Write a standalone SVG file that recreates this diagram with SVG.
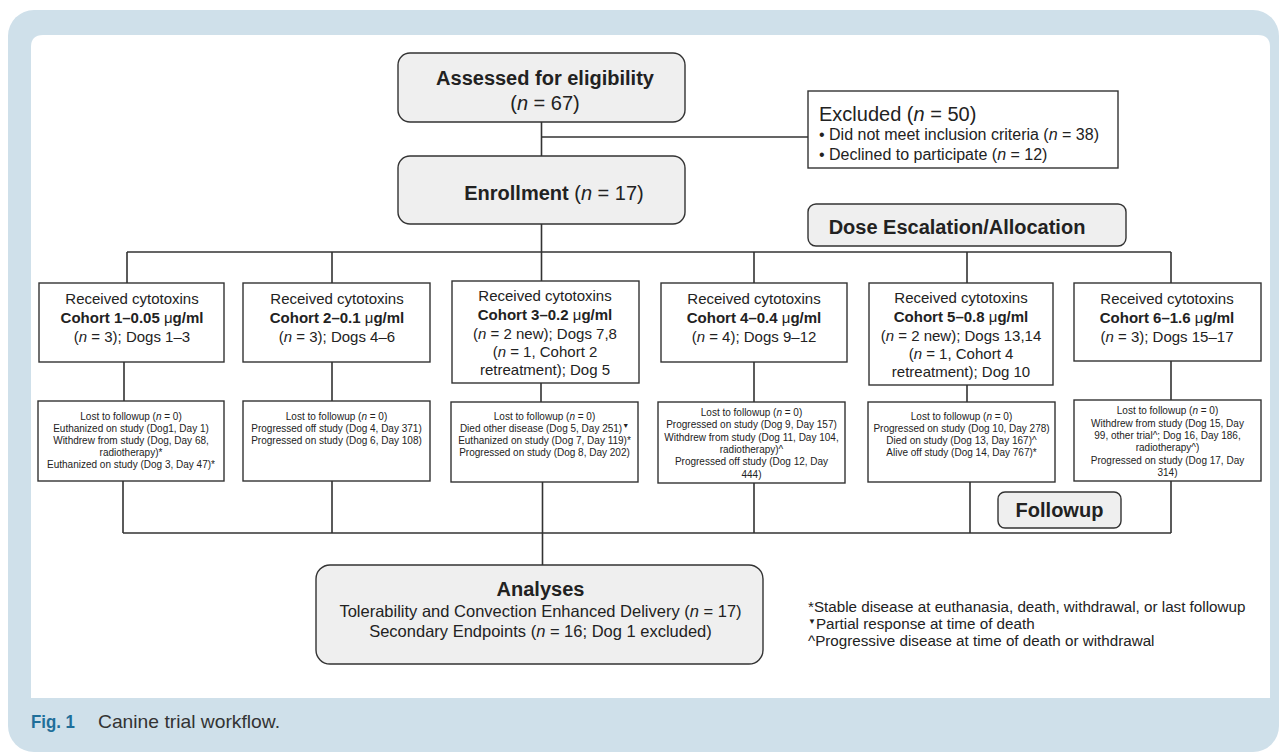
<svg xmlns="http://www.w3.org/2000/svg" width="1279" height="753" viewBox="0 0 1279 753">
<style>
text{font-family:"Liberation Sans",Arial,sans-serif;fill:#222}
.rb{fill:#efefef;stroke:#333;stroke-width:1.4}
.sb{fill:#fff;stroke:#333;stroke-width:1.4}
.t20{font-size:20px;text-anchor:middle}
.b{font-weight:bold}
.c15{font-size:15px;text-anchor:middle}
.f10{font-size:10px;text-anchor:middle}
.ln{stroke:#333;stroke-width:1.6;fill:none}
.it{font-style:italic}
.nb{font-weight:normal}
</style>
<rect x="8" y="10" width="1271" height="742" rx="26" fill="#cfe0ea"/>
<path d="M31 47 Q31 35 43 35 L1258 35 Q1270 35 1270 47 L1270 698 L31 698 Z" fill="#fff"/>
<g id="connectors" class="ln">
<path d="M541.5 122 V156 M541.5 137 H808"/>
<path d="M541.5 224 V252 M127 252 H1171 M127 252 V283 M332 252 V283 M541.5 252 V281 M754 252 V283 M967 252 V283 M1171 252 V283"/>
<path d="M124 362 V401 M332 362 V401 M541 383 V402 M754 362 V402 M967 385 V402 M1171 361 V400"/>
<path d="M123 481 V533 M332 481 V533 M542.5 482 V533 M754 483 V533 M970 482 V533 M1171 481 V533 M123 533 H1171 M542.5 533 V565"/>
</g>
<g id="assessed">
<rect class="rb" x="398" y="53" width="287" height="69" rx="12"/>
<text class="t20 b" x="545" y="85">Assessed for eligibility</text>
<text class="t20" x="545" y="110">(<tspan class="it">n</tspan> = 67)</text>
</g>
<g id="excluded">
<rect class="sb" x="808" y="91" width="310" height="77"/>
<text x="819" y="121" font-size="20">Excluded (<tspan class="it">n</tspan> = 50)</text>
<text x="819" y="140" font-size="16">• Did not meet inclusion criteria (<tspan class="it">n</tspan> = 38)</text>
<text x="819" y="160" font-size="16">• Declined to participate (<tspan class="it">n</tspan> = 12)</text>
</g>
<g id="enrollment">
<rect class="rb" x="398" y="156" width="287" height="68" rx="12"/>
<text class="t20" x="554" y="200"><tspan class="b">Enrollment</tspan> (<tspan class="it">n</tspan> = 17)</text>
</g>
<g id="dose">
<rect class="rb" x="808" y="204" width="318" height="42" rx="8"/>
<text class="t20 b" x="957" y="234">Dose Escalation/Allocation</text>
</g>
<g id="cohort1">
<rect class="sb" x="39" y="283" width="185" height="79"/>
<text class="c15" x="132" y="304">Received cytotoxins</text>
<text class="c15 b" x="132" y="323">Cohort 1–0.05 <tspan class="nb">μ</tspan>g/ml</text>
<text class="c15" x="132" y="342">(<tspan class="it">n</tspan> = 3); Dogs 1–3</text>
</g>
<g id="cohort2">
<rect class="sb" x="243" y="283" width="187" height="79"/>
<text class="c15" x="337" y="304">Received cytotoxins</text>
<text class="c15 b" x="337" y="323">Cohort 2–0.1 <tspan class="nb">μ</tspan>g/ml</text>
<text class="c15" x="337" y="342">(<tspan class="it">n</tspan> = 3); Dogs 4–6</text>
</g>
<g id="cohort3">
<rect class="sb" x="452" y="281" width="187" height="102"/>
<text class="c15" x="545" y="301">Received cytotoxins</text>
<text class="c15 b" x="545" y="320">Cohort 3–0.2 <tspan class="nb">μ</tspan>g/ml</text>
<text class="c15" x="545" y="339">(<tspan class="it">n</tspan> = 2 new); Dogs 7,8</text>
<text class="c15" x="545" y="357">(<tspan class="it">n</tspan> = 1, Cohort 2</text>
<text class="c15" x="545" y="375">retreatment); Dog 5</text>
</g>
<g id="cohort4">
<rect class="sb" x="661" y="283" width="186" height="79"/>
<text class="c15" x="754" y="304">Received cytotoxins</text>
<text class="c15 b" x="754" y="323">Cohort 4–0.4 <tspan class="nb">μ</tspan>g/ml</text>
<text class="c15" x="754" y="342">(<tspan class="it">n</tspan> = 4); Dogs 9–12</text>
</g>
<g id="cohort5">
<rect class="sb" x="869" y="283" width="184" height="102"/>
<text class="c15" x="961" y="303">Received cytotoxins</text>
<text class="c15 b" x="961" y="322">Cohort 5–0.8 <tspan class="nb">μ</tspan>g/ml</text>
<text class="c15" x="961" y="341">(<tspan class="it">n</tspan> = 2 new); Dogs 13,14</text>
<text class="c15" x="961" y="359">(<tspan class="it">n</tspan> = 1, Cohort 4</text>
<text class="c15" x="961" y="377">retreatment); Dog 10</text>
</g>
<g id="cohort6">
<rect class="sb" x="1074" y="283" width="187" height="78"/>
<text class="c15" x="1167" y="304">Received cytotoxins</text>
<text class="c15 b" x="1167" y="323">Cohort 6–1.6 <tspan class="nb">μ</tspan>g/ml</text>
<text class="c15" x="1167" y="342">(<tspan class="it">n</tspan> = 3); Dogs 15–17</text>
</g>
<g id="followup1">
<rect class="sb" x="38" y="401" width="186" height="80"/>
<text class="f10" x="131" y="419.5">Lost to followup (<tspan class="it">n</tspan> = 0)</text>
<text class="f10" x="131" y="431.5">Euthanized on study (Dog1, Day 1)</text>
<text class="f10" x="131" y="443.5">Withdrew from study (Dog, Day 68,</text>
<text class="f10" x="131" y="455.5">radiotherapy)*</text>
<text class="f10" x="131" y="468">Euthanized on study (Dog 3, Day 47)*</text>
</g>
<g id="followup2">
<rect class="sb" x="243" y="401" width="187" height="80"/>
<text class="f10" x="336.5" y="419.5">Lost to followup (<tspan class="it">n</tspan> = 0)</text>
<text class="f10" x="336.5" y="431.5">Progressed off study (Dog 4, Day 371)</text>
<text class="f10" x="336.5" y="443.5">Progressed on study (Dog 6, Day 108)</text>
</g>
<g id="followup3">
<rect class="sb" x="451" y="402" width="187" height="80"/>
<text class="f10" x="544.5" y="419.5">Lost to followup (<tspan class="it">n</tspan> = 0)</text>
<text class="f10" x="544.5" y="431.5">Died other disease (Dog 5, Day 251)<tspan font-size="7" dy="-4">▼</tspan></text>
<text class="f10" x="544.5" y="443.5">Euthanized on study (Dog 7, Day 119)*</text>
<text class="f10" x="544.5" y="455.5">Progressed on study (Dog 8, Day 202)</text>
</g>
<g id="followup4">
<rect class="sb" x="658" y="402" width="187" height="81"/>
<text class="f10" x="751.5" y="415.5">Lost to followup (<tspan class="it">n</tspan> = 0)</text>
<text class="f10" x="751.5" y="428">Progressed on study (Dog 9, Day 157)</text>
<text class="f10" x="751.5" y="440.5">Withdrew from study (Dog 11, Day 104,</text>
<text class="f10" x="751.5" y="452.5">radiotherapy)^</text>
<text class="f10" x="751.5" y="465">Progressed off study (Dog 12, Day</text>
<text class="f10" x="751.5" y="477.5">444)</text>
</g>
<g id="followup5">
<rect class="sb" x="868" y="402" width="187" height="80"/>
<text class="f10" x="961.5" y="419.5">Lost to followup (<tspan class="it">n</tspan> = 0)</text>
<text class="f10" x="961.5" y="431.5">Progressed on study (Dog 10, Day 278)</text>
<text class="f10" x="961.5" y="443.5">Died on study (Dog 13, Day 167)^</text>
<text class="f10" x="961.5" y="455.5">Alive off study (Dog 14, Day 767)*</text>
</g>
<g id="followup6">
<rect class="sb" x="1074" y="400" width="187" height="81"/>
<text class="f10" x="1167.5" y="414">Lost to followup (<tspan class="it">n</tspan> = 0)</text>
<text class="f10" x="1167.5" y="426.5">Withdrew from study (Dog 15, Day</text>
<text class="f10" x="1167.5" y="439">99, other trial^; Dog 16, Day 186,</text>
<text class="f10" x="1167.5" y="451">radiotherapy^)</text>
<text class="f10" x="1167.5" y="463.5">Progressed on study (Dog 17, Day</text>
<text class="f10" x="1167.5" y="476">314)</text>
</g>
<g id="followup-label">
<rect class="rb" x="998" y="492" width="123" height="36" rx="7"/>
<text class="t20 b" x="1059.5" y="517">Followup</text>
</g>
<g id="analyses">
<rect class="rb" x="316" y="565" width="447" height="99" rx="14"/>
<text class="t20 b" x="540.5" y="596">Analyses</text>
<text x="540.5" y="617" font-size="16.5" text-anchor="middle">Tolerability and Convection Enhanced Delivery (<tspan class="it">n</tspan> = 17)</text>
<text x="540.5" y="637" font-size="16.5" text-anchor="middle">Secondary Endpoints (<tspan class="it">n</tspan> = 16; Dog 1 excluded)</text>
</g>
<g id="footnotes" font-size="15.2">
<text x="808" y="612">*Stable disease at euthanasia, death, withdrawal, or last followup</text>
<text x="808" y="629"><tspan font-size="8" dy="-5">▼</tspan><tspan dy="5">Partial response at time of death</tspan></text>
<text x="808" y="646">^Progressive disease at time of death or withdrawal</text>
</g>
<g id="caption">
<text x="31" y="728" font-size="19" font-weight="bold" style="fill:#1f6f9a" textLength="44" lengthAdjust="spacingAndGlyphs">Fig. 1</text>
<text x="98" y="728" font-size="19" style="fill:#333" textLength="182" lengthAdjust="spacingAndGlyphs">Canine trial workflow.</text>
</g>
</svg>
